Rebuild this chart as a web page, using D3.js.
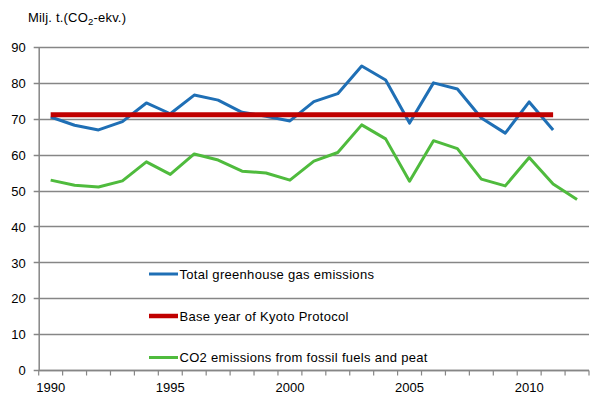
<!DOCTYPE html>
<html>
<head>
<meta charset="utf-8">
<script src="https://cdn.jsdelivr.net/npm/d3@7"></script>
<style>
  body { margin: 0; background: #fff; }
  svg { display: block; font-family: Arial, "Liberation Sans", sans-serif; }
  .tick text { fill: #000; }
</style>
</head>
<body>
<script>
// years on the category axis
const years = d3.range(1990, 2013);
// Milj. t. CO2-ekv.
const totalGhg = [70.5, 68.2, 66.9, 69.2, 74.4, 71.4, 76.6, 75.2, 71.8, 70.7, 69.4, 74.8,
    77.0, 84.7, 80.8, 68.8, 80.0, 78.3, 70.2, 66.0, 74.7, 66.9, null];
const kyotoBase = [71.1, 71.1, 71.1, 71.1, 71.1, 71.1, 71.1, 71.1, 71.1, 71.1, 71.1, 71.1,
    71.1, 71.1, 71.1, 71.1, 71.1, 71.1, 71.1, 71.1, 71.1, 71.1, null];
const co2Fossil = [52.9, 51.5, 51.0, 52.7, 58.0, 54.5, 60.2, 58.5, 55.4, 54.9, 52.9, 58.2,
    60.6, 68.3, 64.4, 52.6, 63.9, 61.7, 53.2, 51.3, 59.2, 51.8, 47.5];
const yTicks = [0, 10, 20, 30, 40, 50, 60, 70, 80, 90];
const xLabels = [1990, 1995, 2000, 2005, 2010];

const seriesNames = ["Total greenhouse gas emissions", "Base year of Kyoto Protocol",
    "CO2 emissions from fossil fuels and peat"];

const width = 607, height = 418;
const margin = {top: 47, right: 18, bottom: 48, left: 38.7};
const gridColor = "#868686";
const fontSize = 13;

let svg = d3.select("body").append("svg")
    .attr("width", width)
    .attr("height", height);

let x = d3.scaleBand()
    .domain(years)
    .range([margin.left, width - margin.right]);

let y = d3.scaleLinear()
    .domain([0, 90])
    .range([height - margin.bottom, margin.top]);

// gridlines
svg.append("g")
    .selectAll("line")
    .data(yTicks)
    .join("line")
    .attr("x1", margin.left - 5)
    .attr("x2", width - margin.right)
    .attr("y1", d => Math.round(y(d)) + 0.5)
    .attr("y2", d => Math.round(y(d)) + 0.5)
    .attr("stroke", gridColor)
    .attr("stroke-width", 1.5);

// y axis
let yAxis = svg.append("g")
    .attr("transform", `translate(${margin.left},0)`)
    .call(d3.axisLeft(y).tickValues(yTicks).tickSize(0).tickPadding(13));
yAxis.select(".domain").attr("stroke", gridColor).attr("stroke-width", 1.5);
yAxis.selectAll("text").attr("font-size", fontSize).attr("dy", "0.36em");

// x axis (category axis, ticks between categories)
let xAxisG = svg.append("g")
    .attr("transform", `translate(0,${Math.round(y(0)) + 0.5})`);
xAxisG.append("line")
    .attr("x1", margin.left).attr("x2", width - margin.right)
    .attr("stroke", gridColor).attr("stroke-width", 1.5);
xAxisG.selectAll(".xt")
    .data(years.concat([2013]))
    .join("line")
    .attr("class", "xt")
    .attr("x1", (d, i) => margin.left + i * x.step())
    .attr("x2", (d, i) => margin.left + i * x.step())
    .attr("y1", 0).attr("y2", 5)
    .attr("stroke", gridColor).attr("stroke-width", 1.2);
xAxisG.selectAll(".xl")
    .data(xLabels)
    .join("text")
    .attr("class", "xl")
    .attr("x", d => x(d) + x.bandwidth() / 2)
    .attr("y", 21)
    .attr("text-anchor", "middle")
    .attr("font-size", fontSize)
    .text(d => d);

// title
let title = svg.append("text")
    .attr("x", 28)
    .attr("y", 22)
    .attr("font-size", fontSize)
    .attr("letter-spacing", 0.2);
title.append("tspan").text("Milj. t.(CO");
title.append("tspan").attr("font-size", 9.5).attr("dy", 3).text("2");
title.append("tspan").attr("dy", -3).text("-ekv.)");

// series
const series = [
    {values: totalGhg, color: "#1f6fb5", w: 3},
    {values: kyotoBase, color: "#c00000", w: 5},
    {values: co2Fossil, color: "#4fbb3d", w: 3}
];

let line = d3.line()
    .defined(d => d.v != null)
    .x(d => x(d.year) + x.bandwidth() / 2)
    .y(d => y(d.v));

// green first, then blue, red on top
[2, 0, 1].forEach(k => {
    let s = series[k];
    svg.append("path")
        .datum(years.map((yr, i) => ({year: yr, v: s.values[i]})))
        .attr("d", line)
        .attr("fill", "none")
        .attr("stroke", s.color)
        .attr("stroke-width", s.w)
        .attr("stroke-linejoin", "round");
});

// legend
const legendY = [274, 316, 357.5];
let legend = svg.append("g");
seriesNames.forEach((name, i) => {
    legend.append("line")
        .attr("x1", 149).attr("x2", 178)
        .attr("y1", legendY[i]).attr("y2", legendY[i])
        .attr("stroke", series[i].color)
        .attr("stroke-width", series[i].w == 5 ? 4.5 : 3);
    legend.append("text")
        .attr("x", 179.5)
        .attr("y", legendY[i])
        .attr("dy", "0.36em")
        .attr("font-size", fontSize)
        .attr("letter-spacing", 0.3)
        .text(name);
});
</script>
</body>
</html>
